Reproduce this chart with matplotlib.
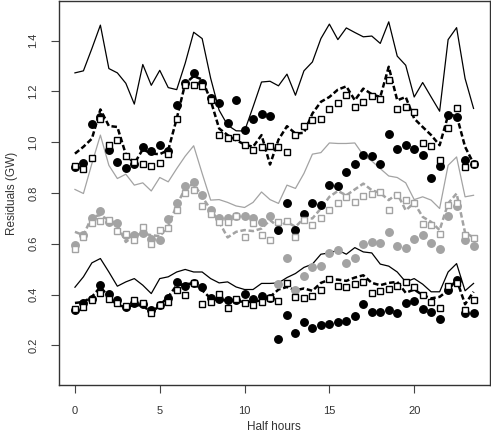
import numpy as np
from matplotlib import pyplot as plt

# half hour index, 48 points
half_hours = np.arange(48) / 2.0

# top group (black)
top_line = [1.273, 1.281, 1.369, 1.461, 1.290, 1.273, 1.232, 1.150, 1.306, 1.224, 1.283, 1.215,
            1.207, 1.311, 1.433, 1.408, 1.252, 1.126, 1.067, 1.045, 1.044, 1.139, 1.237, 1.240,
            1.222, 1.268, 1.185, 1.281, 1.316, 1.408, 1.465, 1.404, 1.450, 1.432, 1.415, 1.418,
            1.389, 1.474, 1.339, 1.303, 1.178, 1.235, 1.178, 1.122, 1.404, 1.451, 1.251, 1.133]
top_dashed = [0.955, 0.982, 1.014, 1.129, 1.064, 1.060, 0.952, 0.916, 0.972, 0.955, 0.953, 0.969,
              1.093, 1.231, 1.260, 1.247, 1.165, 1.054, 1.028, 1.008, 0.991, 0.982, 1.028, 0.912,
              1.010, 1.063, 1.034, 1.037, 1.113, 1.159, 1.178, 1.207, 1.220, 1.165, 1.211, 1.189,
              1.178, 1.297, 1.165, 1.178, 1.093, 1.060, 1.028, 0.988, 1.106, 1.106, 0.982, 0.916]
top_circles = [0.903, 0.919, 1.071, 1.100, 0.969, 0.923, 0.899, 0.916, 0.982, 0.966, 0.988, 0.966,
               1.146, 1.233, 1.273, 1.233, 1.176, 1.155, 1.077, 1.165, 1.047, 1.091, 1.113, 1.102,
               0.656, 0.761, 0.654, 0.717, 0.761, 0.752, 0.833, 0.827, 0.883, 0.913, 0.951, 0.945,
               0.913, 1.034, 0.975, 0.988, 0.975, 0.949, 0.861, 0.906, 1.106, 1.100, 0.929, 0.916]
top_squares = [0.905, 0.896, 0.936, 1.090, 0.988, 1.008, 0.946, 0.923, 0.916, 0.907, 0.919, 0.955,
               1.093, 1.227, 1.224, 1.220, 1.165, 1.030, 1.017, 1.021, 0.988, 0.969, 0.982, 0.986,
               0.982, 0.962, 1.028, 1.064, 1.087, 1.093, 1.129, 1.155, 1.185, 1.137, 1.159, 1.182,
               1.172, 1.244, 1.130, 1.137, 1.119, 0.995, 0.986, 0.929, 1.054, 1.133, 0.903, 0.916]

# middle group (grey)
mid_line = [0.814, 0.798, 0.916, 1.028, 0.909, 0.857, 0.874, 0.831, 0.840, 0.808, 0.861, 0.844,
            0.896, 0.945, 0.986, 0.877, 0.772, 0.774, 0.763, 0.749, 0.743, 0.763, 0.804, 0.774,
            0.759, 0.831, 0.818, 0.877, 0.953, 0.959, 0.997, 0.995, 0.995, 0.997, 0.949, 0.926,
            0.896, 0.867, 0.861, 0.840, 0.774, 0.785, 0.772, 0.739, 0.909, 0.942, 0.785, 0.791]
mid_dashed = [0.647, 0.634, 0.706, 0.713, 0.693, 0.673, 0.607, 0.634, 0.640, 0.634, 0.630, 0.669,
              0.752, 0.818, 0.837, 0.785, 0.735, 0.686, 0.625, 0.647, 0.654, 0.650, 0.660, 0.693,
              0.667, 0.686, 0.667, 0.700, 0.700, 0.739, 0.785, 0.808, 0.791, 0.814, 0.837, 0.811,
              0.800, 0.772, 0.798, 0.732, 0.761, 0.706, 0.686, 0.654, 0.759, 0.798, 0.644, 0.625]
mid_circles = [0.597, 0.635, 0.700, 0.730, 0.686, 0.682, 0.634, 0.634, 0.643, 0.617, 0.614, 0.697,
               0.759, 0.827, 0.844, 0.791, 0.735, 0.702, 0.700, 0.711, 0.710, 0.703, 0.685, 0.710,
               0.440, 0.545, 0.420, 0.475, 0.508, 0.512, 0.564, 0.575, 0.525, 0.546, 0.601, 0.606,
               0.603, 0.647, 0.591, 0.585, 0.617, 0.634, 0.603, 0.580, 0.709, 0.750, 0.614, 0.591]
mid_squares = [0.578, 0.625, 0.682, 0.689, 0.693, 0.651, 0.638, 0.614, 0.667, 0.601, 0.656, 0.663,
               0.732, 0.800, 0.811, 0.748, 0.719, 0.686, 0.686, 0.710, 0.625, 0.682, 0.634, 0.614,
               0.686, 0.690, 0.625, 0.693, 0.673, 0.700, 0.732, 0.761, 0.785, 0.765, 0.789, 0.798,
               0.804, 0.735, 0.791, 0.772, 0.759, 0.677, 0.673, 0.638, 0.752, 0.761, 0.634, 0.621]

# bottom group (black)
low_line = [0.429, 0.470, 0.525, 0.542, 0.489, 0.433, 0.450, 0.463, 0.437, 0.404, 0.463, 0.470,
            0.489, 0.499, 0.489, 0.489, 0.463, 0.446, 0.450, 0.430, 0.420, 0.420, 0.444, 0.444,
            0.446, 0.467, 0.483, 0.507, 0.520, 0.559, 0.564, 0.575, 0.559, 0.585, 0.568, 0.564,
            0.520, 0.512, 0.489, 0.450, 0.463, 0.441, 0.411, 0.411, 0.489, 0.522, 0.415, 0.444]
low_dashed = [0.367, 0.371, 0.391, 0.430, 0.391, 0.358, 0.352, 0.358, 0.358, 0.328, 0.358, 0.391,
              0.437, 0.441, 0.444, 0.417, 0.385, 0.378, 0.378, 0.375, 0.371, 0.371, 0.378, 0.391,
              0.420, 0.430, 0.417, 0.424, 0.415, 0.446, 0.459, 0.459, 0.454, 0.467, 0.476, 0.446,
              0.437, 0.446, 0.450, 0.407, 0.420, 0.398, 0.385, 0.391, 0.417, 0.459, 0.362, 0.411]
low_circles = [0.341, 0.365, 0.381, 0.437, 0.402, 0.378, 0.352, 0.365, 0.362, 0.341, 0.358, 0.388,
               0.450, 0.433, 0.445, 0.430, 0.388, 0.381, 0.378, 0.380, 0.404, 0.381, 0.394, 0.388,
               0.227, 0.319, 0.247, 0.293, 0.267, 0.280, 0.286, 0.293, 0.295, 0.315, 0.361, 0.332,
               0.332, 0.341, 0.328, 0.367, 0.375, 0.345, 0.332, 0.302, 0.420, 0.457, 0.326, 0.326]
low_squares = [0.345, 0.352, 0.378, 0.407, 0.381, 0.365, 0.354, 0.378, 0.367, 0.326, 0.358, 0.371,
               0.417, 0.398, 0.444, 0.362, 0.371, 0.402, 0.349, 0.381, 0.365, 0.358, 0.371, 0.388,
               0.375, 0.444, 0.391, 0.387, 0.394, 0.417, 0.463, 0.433, 0.430, 0.441, 0.448, 0.408,
               0.415, 0.422, 0.433, 0.448, 0.430, 0.398, 0.371, 0.348, 0.433, 0.444, 0.341, 0.378]

BLACK = "black"
GREY = "#a3a3a3"

plt.rcParams['font.family'] = ['Liberation Sans', 'DejaVu Sans']

fig = plt.figure(figsize=(4.91, 4.33), dpi=100)
ax = fig.add_axes([59 / 491, 48 / 433, 430.5 / 491, 384 / 433])

groups = [
    (top_line, top_dashed, top_circles, top_squares, BLACK),
    (mid_line, mid_dashed, mid_circles, mid_squares, GREY),
    (low_line, low_dashed, low_circles, low_squares, BLACK),
]

for line, dashed, circles, squares, col in groups:
    ax.plot(half_hours, line, color=col, lw=0.9, zorder=2)
    ax.plot(half_hours, dashed, color=col, lw=1.8, dashes=(2.2, 1.1), zorder=3)
    ax.plot(half_hours, circles, "o", color=col, ms=5.4, mec=col, zorder=4)
    ax.plot(half_hours, squares, "s", mfc="white", mec=col, mew=1.0, ms=4.8, zorder=5)

ax.set_xlim(-0.94, 24.44)
ax.set_ylim(0.044, 1.556)

ax.set_xticks([0, 5, 10, 15, 20])
ax.set_yticks([0.2, 0.4, 0.6, 0.8, 1.0, 1.2, 1.4])
ax.set_yticklabels(["0.2", "0.4", "0.6", "0.8", "1.0", "1.2", "1.4"], rotation=90, va="center")
ax.tick_params(direction="out", length=6, width=0.8, labelsize=8, pad=9, color="#444444",
               labelcolor="#333333")
for s in ax.spines.values():
    s.set_linewidth(1.0)
    s.set_color("#333333")

ax.set_xlabel("Half hours", fontsize=8.5, color="#333333", labelpad=4)
ax.set_ylabel("Residuals (GW)", fontsize=8.5, color="#333333", labelpad=7)

fig.savefig("out.png", dpi=100)
